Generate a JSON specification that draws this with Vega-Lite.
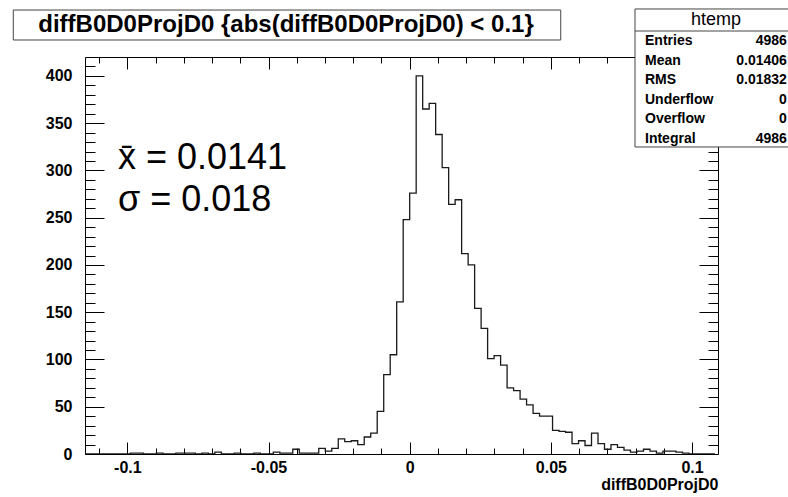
{
  "$schema": "https://vega.github.io/schema/vega-lite/v6.json",
  "width": 633,
  "height": 397,
  "autosize": {"type": "none"},
  "padding": {"left": 85, "top": 57, "right": 70, "bottom": 43},
  "background": "white",
  "config": {
    "view": {"stroke": null},
    "font": "Liberation Sans",
    "axis": {
      "grid": false, "domainColor": "black", "domainWidth": 1, "tickColor": "black", "tickWidth": 1,
      "labelFont": "Liberation Sans", "labelFontWeight": "bold", "labelFontSize": 16, "labelColor": "black",
      "titleFont": "Liberation Sans", "titleFontWeight": "bold", "titleFontSize": 16, "titleColor": "black",
      "labelOverlap": false, "labelFlush": false
    }
  },
  "datasets": {
    "hist": [
      {"x": -0.1150, "n": 0}, {"x": -0.1127, "n": 0}, {"x": -0.1104, "n": 0}, {"x": -0.1081, "n": 0},
      {"x": -0.1058, "n": 0}, {"x": -0.1035, "n": 0}, {"x": -0.1012, "n": 0}, {"x": -0.0989, "n": 1},
      {"x": -0.0966, "n": 1}, {"x": -0.0943, "n": 0}, {"x": -0.0920, "n": 0}, {"x": -0.0897, "n": 1},
      {"x": -0.0874, "n": 0}, {"x": -0.0851, "n": 0}, {"x": -0.0828, "n": 1}, {"x": -0.0805, "n": 1},
      {"x": -0.0782, "n": 1}, {"x": -0.0759, "n": 0}, {"x": -0.0736, "n": 1}, {"x": -0.0713, "n": 0},
      {"x": -0.0690, "n": 2}, {"x": -0.0667, "n": 0}, {"x": -0.0644, "n": 0}, {"x": -0.0621, "n": 1},
      {"x": -0.0598, "n": 0}, {"x": -0.0575, "n": 0}, {"x": -0.0552, "n": 1}, {"x": -0.0529, "n": 0},
      {"x": -0.0506, "n": 0}, {"x": -0.0483, "n": 2}, {"x": -0.0460, "n": 1}, {"x": -0.0437, "n": 1},
      {"x": -0.0414, "n": 5}, {"x": -0.0391, "n": 1}, {"x": -0.0368, "n": 1}, {"x": -0.0345, "n": 1},
      {"x": -0.0322, "n": 6}, {"x": -0.0299, "n": 3}, {"x": -0.0276, "n": 6}, {"x": -0.0253, "n": 16},
      {"x": -0.0230, "n": 13}, {"x": -0.0207, "n": 14}, {"x": -0.0184, "n": 10}, {"x": -0.0161, "n": 18},
      {"x": -0.0138, "n": 22}, {"x": -0.0115, "n": 45}, {"x": -0.0092, "n": 84}, {"x": -0.0069, "n": 105},
      {"x": -0.0046, "n": 161}, {"x": -0.0023, "n": 248}, {"x": 0.0000, "n": 276}, {"x": 0.0023, "n": 400},
      {"x": 0.0046, "n": 365}, {"x": 0.0069, "n": 371}, {"x": 0.0092, "n": 338}, {"x": 0.0115, "n": 303},
      {"x": 0.0138, "n": 264}, {"x": 0.0161, "n": 269}, {"x": 0.0184, "n": 212}, {"x": 0.0207, "n": 200},
      {"x": 0.0230, "n": 154}, {"x": 0.0253, "n": 133}, {"x": 0.0276, "n": 101}, {"x": 0.0299, "n": 104},
      {"x": 0.0322, "n": 94}, {"x": 0.0345, "n": 70}, {"x": 0.0368, "n": 67}, {"x": 0.0391, "n": 58},
      {"x": 0.0414, "n": 52}, {"x": 0.0437, "n": 43}, {"x": 0.0460, "n": 40}, {"x": 0.0483, "n": 40},
      {"x": 0.0506, "n": 25}, {"x": 0.0529, "n": 24}, {"x": 0.0552, "n": 23}, {"x": 0.0575, "n": 11},
      {"x": 0.0598, "n": 14}, {"x": 0.0621, "n": 9}, {"x": 0.0644, "n": 22}, {"x": 0.0667, "n": 11},
      {"x": 0.0690, "n": 5}, {"x": 0.0713, "n": 10}, {"x": 0.0736, "n": 7}, {"x": 0.0759, "n": 4},
      {"x": 0.0782, "n": 2}, {"x": 0.0805, "n": 3}, {"x": 0.0828, "n": 5}, {"x": 0.0851, "n": 3},
      {"x": 0.0874, "n": 1}, {"x": 0.0897, "n": 3}, {"x": 0.0920, "n": 3}, {"x": 0.0943, "n": 2},
      {"x": 0.0966, "n": 1}, {"x": 0.0989, "n": 0}, {"x": 0.1012, "n": 0}, {"x": 0.1035, "n": 0},
      {"x": 0.1058, "n": 0}, {"x": 0.1081, "n": 0}
    ]
  },
  "layer": [
    {
      "data": {"name": "hist"},
      "mark": {"type": "line", "interpolate": "step-after", "color": "#1a1a1a", "strokeWidth": 1.3, "clip": true},
      "encoding": {
        "x": {
          "field": "x", "type": "quantitative",
          "scale": {"domain": [-0.115, 0.1092], "nice": false, "zero": false},
          "axis": {
            "orient": "bottom",
            "values": [-0.11, -0.1, -0.09, -0.08, -0.07, -0.06, -0.05, -0.04, -0.03, -0.02, -0.01, 0, 0.01, 0.02, 0.03, 0.04, 0.05, 0.06, 0.07, 0.08, 0.09, 0.1],
            "format": ".2~f",
            "labelExpr": "abs(datum.value*20 - round(datum.value*20)) < 0.001 ? replace(datum.label, '\u2212', '-') : ''",
            "tickSize": {"condition": {"test": "abs(datum.value*20 - round(datum.value*20)) < 0.001", "value": -12}, "value": -6},
            "labelPadding": 17,
            "title": "diffB0D0ProjD0", "titleAnchor": "end", "titlePadding": -5
          }
        },
        "y": {
          "field": "n", "type": "quantitative",
          "scale": {"domain": [0, 420], "nice": false},
          "axis": {
            "orient": "left",
            "values": [0, 10, 20, 30, 40, 50, 60, 70, 80, 90, 100, 110, 120, 130, 140, 150, 160, 170, 180, 190, 200, 210, 220, 230, 240, 250, 260, 270, 280, 290, 300, 310, 320, 330, 340, 350, 360, 370, 380, 390, 400, 410],
            "labelExpr": "datum.value % 50 === 0 ? datum.label : ''",
            "tickSize": {"condition": {"test": "datum.value % 50 === 0", "value": -19}, "value": -10},
            "labelPadding": 32,
            "title": null
          }
        }
      }
    },
    {
      "data": {"name": "hist"},
      "mark": {"type": "line", "interpolate": "step-after", "strokeOpacity": 0},
      "encoding": {
        "x": {
          "field": "x", "type": "quantitative",
          "axis": {
            "orient": "top", "labels": false, "title": null,
            "values": [-0.11, -0.1, -0.09, -0.08, -0.07, -0.06, -0.05, -0.04, -0.03, -0.02, -0.01, 0, 0.01, 0.02, 0.03, 0.04, 0.05, 0.06, 0.07, 0.08, 0.09, 0.1],
            "tickSize": {"condition": {"test": "abs(datum.value*20 - round(datum.value*20)) < 0.001", "value": -12}, "value": -6}
          }
        },
        "y": {
          "field": "n", "type": "quantitative",
          "axis": {
            "orient": "right", "labels": false, "title": null,
            "values": [0, 10, 20, 30, 40, 50, 60, 70, 80, 90, 100, 110, 120, 130, 140, 150, 160, 170, 180, 190, 200, 210, 220, 230, 240, 250, 260, 270, 280, 290, 300, 310, 320, 330, 340, 350, 360, 370, 380, 390, 400, 410],
            "tickSize": {"condition": {"test": "datum.value % 50 === 0", "value": -19}, "value": -10}
          }
        }
      }
    },
    {
      "data": {"values": [{}]},
      "mark": {"type": "text", "text": ["x\u0304 = 0.0141", "\u03c3 = 0.018"], "font": "Liberation Sans", "fontSize": 36, "lineHeight": 42, "align": "left", "baseline": "alphabetic", "color": "black"},
      "encoding": {
        "x": {"datum": -0.10331, "type": "quantitative", "axis": null},
        "y": {"datum": 301.5, "type": "quantitative", "axis": null}
      }
    },
    {
      "data": {"values": [{}]},
      "mark": {"type": "rect", "fill": "white", "stroke": "#444", "strokeWidth": 1},
      "encoding": {
        "x": {"datum": -0.1404, "type": "quantitative", "axis": null},
        "x2": {"datum": 0.0535},
        "y": {"datum": 469.7, "type": "quantitative", "axis": null},
        "y2": {"datum": 438.0}
      }
    },
    {
      "data": {"values": [{}]},
      "mark": {"type": "text", "text": "diffB0D0ProjD0 {abs(diffB0D0ProjD0) < 0.1}", "font": "Liberation Sans", "fontWeight": "bold", "fontSize": 24, "align": "center", "baseline": "middle", "color": "black"},
      "encoding": {
        "x": {"datum": -0.0438, "type": "quantitative", "axis": null},
        "y": {"datum": 453.9, "type": "quantitative", "axis": null}
      }
    },
    {
      "data": {"values": [{}]},
      "mark": {"type": "rect", "fill": "white", "stroke": "#444", "strokeWidth": 1},
      "encoding": {
        "x": {"datum": 0.0798, "type": "quantitative", "axis": null},
        "x2": {"datum": 0.13824},
        "y": {"datum": 470.8, "type": "quantitative", "axis": null},
        "y2": {"datum": 324.8}
      }
    },
    {
      "data": {"values": [{}]},
      "mark": {"type": "rule", "stroke": "#444", "strokeWidth": 1},
      "encoding": {
        "x": {"datum": 0.0798, "type": "quantitative", "axis": null},
        "x2": {"datum": 0.13824},
        "y": {"datum": 447.5, "type": "quantitative", "axis": null}
      }
    },
    {
      "data": {"values": [{}]},
      "mark": {"type": "text", "text": "htemp", "font": "Liberation Sans", "fontSize": 18, "align": "center", "baseline": "middle", "color": "black"},
      "encoding": {
        "x": {"datum": 0.10849, "type": "quantitative", "axis": null},
        "y": {"datum": 459.1, "type": "quantitative", "axis": null}
      }
    },
    {
      "data": {"values": [{}]},
      "mark": {"type": "text", "text": ["Entries", "Mean", "RMS", "Underflow", "Overflow", "Integral"], "font": "Liberation Sans", "fontWeight": "bold", "fontSize": 14, "lineHeight": 19.6, "align": "left", "baseline": "alphabetic", "color": "black"},
      "encoding": {
        "x": {"datum": 0.08334, "type": "quantitative", "axis": null},
        "y": {"datum": 432.7, "type": "quantitative", "axis": null}
      }
    },
    {
      "data": {"values": [{}]},
      "mark": {"type": "text", "text": ["4986", "0.01406", "0.01832", "0", "0", "4986"], "font": "Liberation Sans", "fontWeight": "bold", "fontSize": 14, "lineHeight": 19.6, "align": "right", "baseline": "alphabetic", "color": "black"},
      "encoding": {
        "x": {"datum": 0.1336, "type": "quantitative", "axis": null},
        "y": {"datum": 432.7, "type": "quantitative", "axis": null}
      }
    }
  ]
}
